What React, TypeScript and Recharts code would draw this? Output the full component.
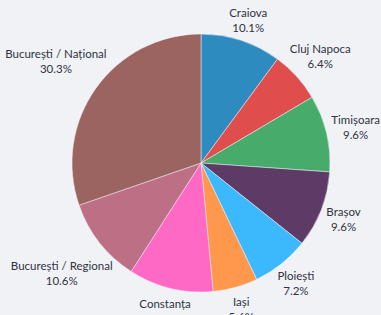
import { PieChart, Pie, Cell } from 'recharts';

const cities = [
  'Craiova',
  'Cluj Napoca',
  'Timișoara',
  'Brașov',
  'Ploiești',
  'Iași',
  'Constanța',
  'București / Regional',
  'București / Național',
];
const shares = [10.1, 6.4, 9.6, 9.6, 7.2, 5.6, 10.6, 10.6, 30.3];

const colors = [
  '#2e8bbf',
  '#e04d4d',
  '#46ab6b',
  '#5e3a66',
  '#3cb9fc',
  '#ff974d',
  '#ff69c6',
  '#bd7085',
  '#9c6461',
];

const data = cities.map((name, i) => ({ name, value: shares[i] }));

const W = 381;
const H = 315;
const FONT = '11.5px Lato';
let ctx: CanvasRenderingContext2D | null = null;
const measure = (s: string) => {
  if (!ctx) {
    ctx = document.createElement('canvas').getContext('2d');
  }
  if (!ctx) return s.length * 5.5;
  ctx.font = FONT;
  return ctx.measureText(s).width;
};

// outside labels, pushed out so the text box clears the slice edge
const renderLabel = (props: any) => {
  const { cx, cy, midAngle, outerRadius, name, value } = props;
  const rad = (midAngle * Math.PI) / 180;
  const cos = Math.cos(rad);
  const sin = Math.sin(rad);
  const pct = value.toFixed(1) + '%';
  const w = Math.max(measure(name), measure(pct));
  const h = 30;
  const d = outerRadius + 7 + Math.hypot((w / 2) * cos, (h / 2) * sin);
  // keep text inside the canvas horizontally
  const x = Math.min(Math.max(cx + d * cos, w / 2 + 1), W - w / 2 - 1);
  const y = cy - d * sin;
  return (
    <text
      x={x}
      y={y}
      textAnchor="middle"
      dominantBaseline="central"
      fill="#31333f"
      style={{ fontFamily: 'Lato', fontSize: 11.5 }}
    >
      <tspan x={x} y={y - 7}>{name}</tspan>
      <tspan x={x} y={y + 8}>{pct}</tspan>
    </text>
  );
};

const App = () => {
  return (
    <div
      style={{
        position: 'fixed',
        left: 0,
        top: 0,
        width: W,
        height: H,
        background: '#f0f2f6',
        overflow: 'hidden',
      }}
    >
      <PieChart width={W} height={H} margin={{ top: 0, right: 0, bottom: 0, left: 0 }}>
        <Pie
          data={data}
          dataKey="value"
          nameKey="name"
          cx={201}
          cy={163}
          outerRadius={129}
          startAngle={90}
          endAngle={-270}
          stroke="#f0f2f6"
          strokeWidth={0.5}
          label={renderLabel}
          labelLine={false}
          isAnimationActive={false}
        >
          {data.map((d, i) => (
            <Cell key={d.name} fill={colors[i]} />
          ))}
        </Pie>
      </PieChart>
    </div>
  );
};

export default App;
